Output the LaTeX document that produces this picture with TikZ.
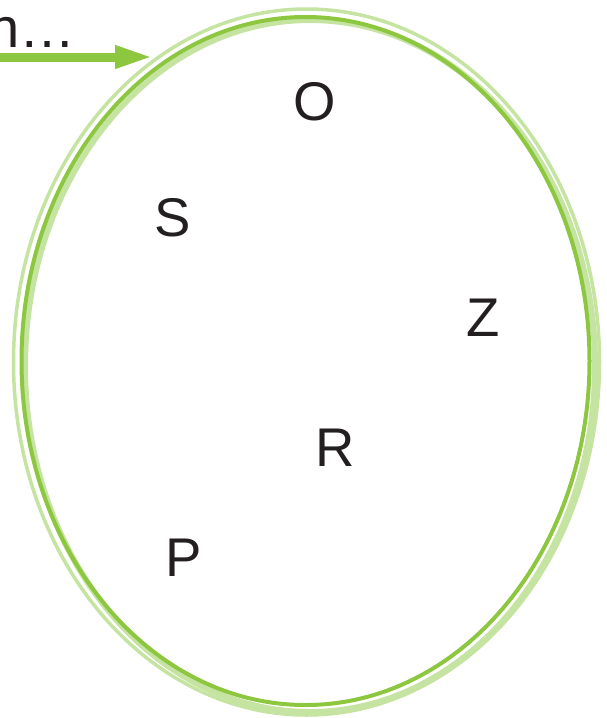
\documentclass[tikz,border=0pt]{standalone}
\usepackage{fontspec}
\setmainfont{Liberation Sans}
\usetikzlibrary{arrows.meta,shapes.geometric}
\definecolor{gdark}{HTML}{8DC63F}
\definecolor{glight}{HTML}{C5E3A1}
\definecolor{ink}{HTML}{231F20}
\tikzset{
  letter/.style={text=ink,font=\fontsize{54.5}{60}\selectfont,inner sep=0pt,anchor=center},
  ring/.style={draw,ellipse,inner sep=0pt},
}
\begin{document}
\begin{tikzpicture}[x=1pt,y=-1pt]
\useasboundingbox (0,0) rectangle (606,718);
% rings
\node[ring,draw=glight,line width=3.5pt,minimum width=586pt,minimum height=706pt] (outer) at (306.5,362) {};
\node[ring,draw=glight,line width=6pt,minimum width=570pt,minimum height=692pt] (band) at (310,366) {};
\node[ring,draw=gdark,line width=4pt,minimum width=568pt,minimum height=688pt] (ring) at (305.5,361) {};
% arrow
\node[text=ink,font=\fontsize{56}{60}\selectfont,inner sep=0pt,anchor=base west] (lbl) at (-12,47) {n…};
\coordinate (start) at (-5,57);
\coordinate (tip) at (153,57);
\draw[gdark,line width=9pt,-{Triangle[length=38pt,width=21pt]}] (start) -- (tip);
% letters
\node[letter] (O) at (314.5,101.5) {O};
\node[letter] (S) at (173,217.5) {S};
\node[letter] (Z) at (483.5,318) {Z};
\node[letter] (R) at (335,448) {R};
\node[letter] (P) at (184,557.5) {P};
\end{tikzpicture}
\end{document}
